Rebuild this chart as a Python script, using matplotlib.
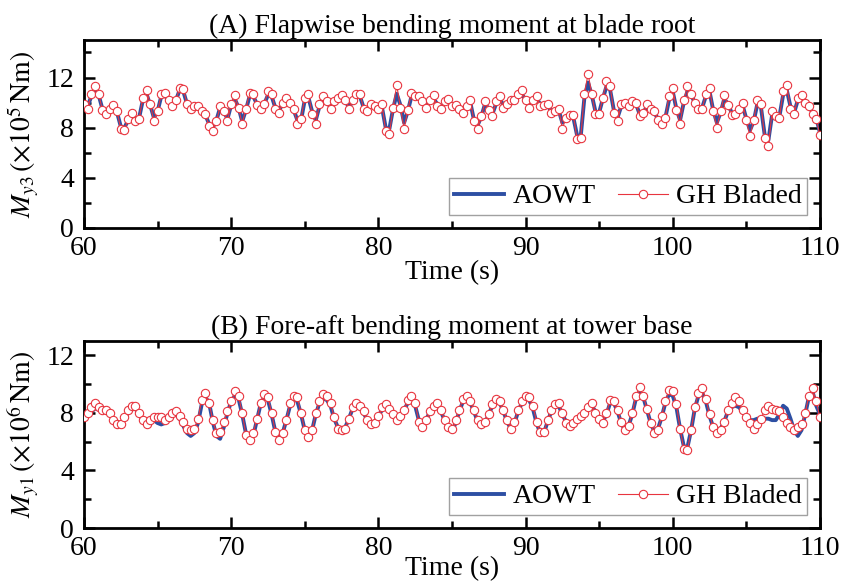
import numpy as np
import matplotlib
matplotlib.use("Agg")
import matplotlib.pyplot as plt
from matplotlib.ticker import MultipleLocator

# sample time of both series (s), one sample every 0.25 s
time = np.linspace(60, 110, 201)

# (A) flapwise bending moment at blade root, x1e5 Nm
bladed_a = [
    9.9, 9.5, 10.7, 11.3, 10.7, 9.4, 9.1, 9.5, 9.8, 9.3,
    7.9, 7.8, 8.7, 9.2, 8.5, 8.7, 10.4, 11.0, 9.9, 8.5,
    9.3, 10.7, 10.8, 10.2, 9.7, 10.2, 11.2, 11.1, 9.9, 9.5,
    9.7, 9.7, 9.3, 9.1, 8.1, 7.7, 8.5, 9.7, 9.3, 8.5,
    9.9, 10.6, 9.6, 8.3, 9.5, 10.8, 10.7, 9.8, 9.5, 9.9,
    10.9, 10.7, 9.5, 9.2, 10.0, 10.4, 10.0, 9.5, 8.3, 8.7,
    10.4, 10.7, 9.1, 8.3, 9.9, 10.5, 10.1, 9.5, 10.1, 10.4,
    10.6, 10.2, 9.5, 10.2, 10.7, 10.7, 9.5, 9.3, 9.9, 9.7,
    9.5, 9.9, 7.7, 7.5, 9.6, 11.4, 9.6, 7.9, 9.4, 10.8,
    10.5, 10.5, 10.1, 9.6, 10.2, 10.6, 9.7, 9.5, 10.1, 10.3,
    9.7, 9.8, 9.5, 9.2, 9.7, 10.2, 8.5, 7.9, 8.9, 10.1,
    9.4, 8.9, 10.1, 10.5, 9.6, 9.9, 10.2, 10.2, 10.7, 11.0,
    10.2, 9.6, 10.2, 10.5, 9.7, 9.8, 9.9, 9.2, 9.3, 9.5,
    7.9, 8.8, 9.0, 9.0, 7.1, 7.2, 10.7, 12.3, 10.7, 9.1,
    9.1, 10.4, 11.7, 11.3, 9.2, 8.5, 9.9, 10.0, 9.7, 10.1,
    10.0, 8.9, 9.2, 9.9, 9.5, 9.3, 8.6, 8.3, 8.8, 10.5,
    11.2, 9.4, 8.3, 10.2, 11.3, 10.7, 10.0, 9.5, 9.5, 10.7,
    11.2, 9.3, 8.0, 9.3, 10.6, 9.8, 9.0, 9.1, 9.5, 10.0,
    8.6, 7.3, 8.6, 10.2, 9.9, 7.2, 6.5, 9.3, 8.9, 8.8,
    10.9, 11.4, 9.5, 9.1, 10.4, 10.6, 10.0, 9.7, 9.1, 8.7,
    7.4,
]
aowt_a = [
    9.7, 9.7, 10.5, 11.0, 10.6, 9.5, 9.2, 9.4, 9.6, 9.2,
    8.1, 8.0, 8.6, 9.0, 8.7, 8.8, 10.2, 10.7, 9.8, 8.8,
    9.3, 10.5, 10.6, 10.1, 9.8, 10.2, 11.0, 10.9, 9.9, 9.6,
    9.7, 9.6, 9.3, 9.0, 8.3, 8.0, 8.6, 9.6, 9.3, 8.7,
    9.8, 10.3, 9.6, 8.5, 9.4, 10.5, 10.5, 9.9, 9.6, 9.9,
    10.6, 10.5, 9.6, 9.3, 10.0, 10.3, 10.0, 9.4, 8.6, 8.6,
    10.2, 10.4, 9.3, 8.6, 9.7, 10.3, 10.1, 9.6, 10.0, 10.3,
    10.4, 10.2, 9.6, 10.1, 10.5, 10.5, 9.6, 9.4, 9.8, 9.7,
    9.5, 9.6, 8.0, 7.9, 9.5, 10.7, 9.8, 8.4, 9.3, 10.5,
    10.4, 10.3, 10.1, 9.8, 10.1, 10.3, 9.9, 9.6, 10.0, 10.2,
    9.8, 9.8, 9.6, 9.4, 9.7, 10.0, 8.6, 8.2, 8.9, 9.9,
    9.5, 9.1, 9.9, 10.3, 9.8, 9.9, 10.1, 10.1, 10.5, 10.7,
    10.2, 9.8, 10.1, 10.3, 9.9, 9.9, 9.8, 9.3, 9.3, 9.4,
    8.4, 8.7, 9.0, 8.8, 7.4, 7.3, 10.4, 11.6, 10.6, 9.3,
    9.2, 10.3, 11.3, 11.0, 9.4, 8.8, 9.7, 9.9, 9.8, 10.0,
    9.9, 9.1, 9.2, 9.7, 9.5, 9.2, 8.7, 8.5, 8.8, 10.2,
    10.9, 9.5, 8.6, 10.0, 10.9, 10.6, 10.0, 9.6, 9.6, 10.5,
    10.9, 9.4, 8.4, 9.2, 10.3, 9.9, 9.2, 9.1, 9.4, 9.8,
    8.7, 7.8, 8.5, 9.9, 9.6, 7.4, 7.0, 9.0, 8.9, 8.9,
    10.6, 11.0, 9.7, 9.2, 10.2, 10.4, 10.1, 9.7, 9.2, 8.8,
    7.6,
]

# (B) fore-aft bending moment at tower base, x1e6 Nm
bladed_b = [
    7.7, 8.0, 8.4, 8.7, 8.4, 8.2, 8.2, 8.0, 7.5, 7.2,
    7.2, 7.7, 8.2, 8.5, 8.5, 8.0, 7.5, 7.2, 7.5, 7.7,
    7.7, 7.7, 7.5, 7.7, 8.0, 8.1, 7.8, 7.4, 6.9, 6.8,
    6.9, 7.6, 8.9, 9.4, 8.7, 7.5, 6.6, 6.7, 7.4, 8.1,
    8.8, 9.5, 9.2, 8.0, 6.5, 6.1, 6.6, 7.6, 8.7, 9.3,
    9.1, 8.0, 6.7, 6.1, 6.6, 7.5, 8.7, 9.2, 9.1, 8.0,
    6.8, 6.3, 6.8, 8.0, 8.8, 9.3, 9.2, 8.7, 7.7, 6.9,
    6.8, 6.9, 7.6, 8.4, 8.7, 8.5, 8.1, 7.5, 7.2, 7.3,
    7.8, 8.4, 8.6, 8.3, 7.9, 7.5, 7.8, 8.2, 8.9, 9.2,
    8.7, 7.4, 7.0, 7.5, 8.1, 8.5, 8.7, 8.2, 7.5, 7.0,
    6.9, 7.5, 8.2, 9.0, 9.2, 8.8, 8.2, 7.5, 7.2, 7.4,
    7.9, 8.6, 9.0, 8.8, 8.2, 7.5, 6.9, 7.4, 8.2, 8.8,
    9.2, 9.1, 8.5, 7.4, 6.7, 6.7, 7.5, 8.2, 8.6, 8.7,
    8.0, 7.3, 7.1, 7.3, 7.6, 7.8, 8.0, 8.4, 8.7, 8.0,
    7.6, 7.3, 8.0, 8.9, 8.8, 8.2, 7.4, 6.8, 7.1, 8.0,
    9.2, 9.8, 9.2, 8.3, 7.3, 6.6, 6.8, 7.8, 8.8, 9.6,
    9.5, 8.6, 6.9, 5.5, 5.4, 6.8, 8.4, 9.4, 9.7, 9.0,
    7.9, 7.0, 6.6, 6.8, 7.4, 8.2, 8.7, 9.1, 8.8, 8.2,
    7.7, 7.3, 6.9, 7.2, 7.6, 8.2, 8.5, 8.3, 8.2, 8.1,
    7.7, 7.3, 7.0, 6.8, 7.0, 7.2, 8.0, 9.2, 9.7, 8.8,
    7.7,
]
aowt_b = [
    7.5, 7.8, 8.1, 8.3, 8.3, 8.2, 8.1, 7.9, 7.6, 7.3,
    7.3, 7.6, 8.0, 8.3, 8.3, 7.9, 7.5, 7.4, 7.6, 7.5,
    7.3, 7.2, 7.3, 7.6, 7.9, 7.9, 7.6, 7.1, 6.6, 6.4,
    6.6, 7.3, 8.6, 9.1, 8.7, 7.4, 6.4, 6.2, 7.0, 8.0,
    8.8, 9.2, 9.0, 7.9, 6.6, 6.1, 6.4, 7.5, 8.6, 9.1,
    8.9, 7.9, 6.7, 6.2, 6.6, 7.5, 8.5, 9.0, 8.8, 7.9,
    6.8, 6.4, 6.8, 7.9, 8.7, 9.0, 8.9, 8.5, 7.6, 7.0,
    6.9, 7.0, 7.6, 8.3, 8.6, 8.4, 8.0, 7.5, 7.3, 7.4,
    7.8, 8.2, 8.4, 8.2, 7.9, 7.6, 7.8, 8.2, 8.7, 8.9,
    8.5, 7.5, 7.1, 7.5, 8.1, 8.4, 8.5, 8.1, 7.5, 6.9,
    6.7, 7.3, 8.1, 8.8, 9.0, 8.7, 8.1, 7.4, 7.0, 7.3,
    7.9, 8.5, 8.8, 8.7, 8.1, 7.4, 6.9, 7.3, 8.1, 8.7,
    9.0, 8.9, 8.3, 7.3, 6.6, 6.6, 7.4, 8.1, 8.4, 8.5,
    7.9, 7.4, 7.2, 7.3, 7.5, 7.7, 7.9, 8.3, 8.5, 8.1,
    7.6, 7.4, 7.9, 8.7, 8.7, 8.1, 7.3, 6.8, 7.1, 7.9,
    9.0, 9.4, 9.1, 8.2, 7.3, 6.7, 6.9, 7.7, 8.7, 9.3,
    9.2, 8.4, 6.9, 5.7, 5.6, 6.8, 8.3, 9.2, 9.4, 8.8,
    7.8, 7.0, 6.7, 6.9, 7.4, 8.1, 8.4, 8.5, 8.4, 8.1,
    7.7, 7.5, 7.5, 7.6, 7.6, 7.6, 7.6, 7.5, 7.5, 7.9,
    8.5, 8.3, 7.6, 6.8, 6.4, 6.8, 7.9, 9.1, 9.5, 8.5,
    7.9,
]

BLUE = "#2d4fa3"
RED = "#e8353f"
FS = 20

plt.rcParams["font.family"] = ["Liberation Serif", "DejaVu Serif"]
plt.rcParams["mathtext.fontset"] = "stix"
plt.rcParams["font.size"] = FS


def style_axes(ax, ymax):
    ax.set_xlim(60, 110)
    ax.set_ylim(0, ymax)
    ax.xaxis.set_major_locator(MultipleLocator(10))
    ax.xaxis.set_minor_locator(MultipleLocator(5))
    ax.yaxis.set_major_locator(MultipleLocator(4))
    ax.yaxis.set_minor_locator(MultipleLocator(2))
    ax.tick_params(which="both", direction="in", top=True, right=True, width=1.8)
    ax.tick_params(which="major", length=8, labelsize=FS)
    ax.tick_params(axis="x", which="major", pad=6)
    ax.tick_params(axis="y", which="major", pad=7)
    ax.tick_params(which="minor", length=5)
    for s in ax.spines.values():
        s.set_linewidth(2.0)


def draw_panel(ax, aowt, bladed, title, ylabel, ymax, legend_y, xpad):
    ax.plot(time, aowt, color=BLUE, lw=2.8, zorder=2, label="AOWT")
    ax.plot(time, bladed, color=RED, lw=0.8, marker="o", ms=6,
            mfc="white", mec=RED, mew=0.8, zorder=3, label="GH Bladed")
    style_axes(ax, ymax)
    ax.set_title(title, fontsize=FS, pad=5)
    ax.set_xlabel("Time (s)", fontsize=FS, labelpad=xpad)
    ax.set_ylabel(ylabel, fontsize=FS, labelpad=4)
    leg = ax.legend(loc="lower right", bbox_to_anchor=(0.983, legend_y),
                    ncol=2, fontsize=FS, frameon=True, fancybox=False,
                    borderaxespad=0, handlelength=1.8, columnspacing=0.8,
                    handletextpad=0.3, borderpad=0.2)
    leg.get_frame().set_edgecolor("#8a8a8a")
    leg.get_frame().set_linewidth(1.0)


fig = plt.figure(figsize=(8.43, 5.83), dpi=100)
ax_a = fig.add_axes([0.0996, 0.609, 0.873, 0.3225])
ax_b = fig.add_axes([0.0996, 0.0943, 0.873, 0.3208])

draw_panel(ax_a, aowt_a, bladed_a,
           "(A) Flapwise bending moment at blade root",
           r"$M_{y3}\,(\times10^{5}\,\mathrm{Nm})$", 15, 0.07, -1)
draw_panel(ax_b, aowt_b, bladed_b,
           "(B) Fore-aft bending moment at tower base",
           r"$M_{y1}\,(\times10^{6}\,\mathrm{Nm})$", 13, 0.07, -4)

fig.savefig("out.png", dpi=100)
